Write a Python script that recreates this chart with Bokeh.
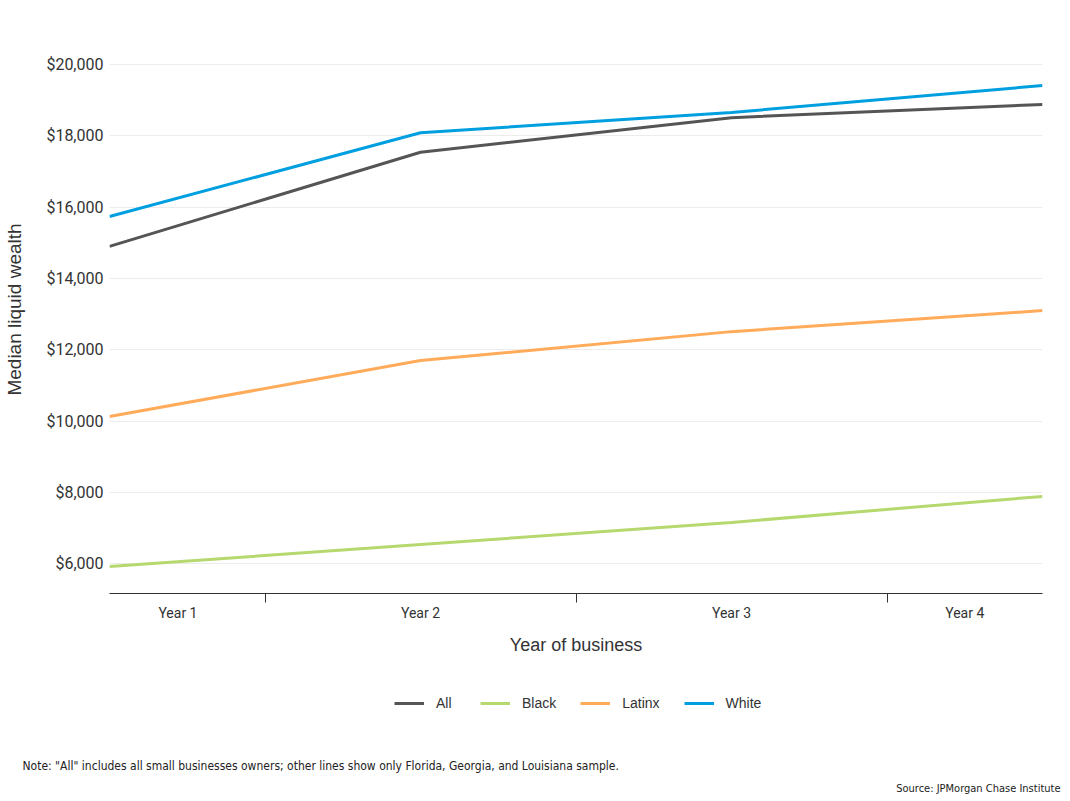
from bokeh.plotting import figure
from bokeh.layouts import column
from bokeh.models import (Range1d, FixedTicker, NumeralTickFormatter, Legend, LegendItem,
                          Title, ColumnDataSource)
from bokeh.embed import file_html
from bokeh.resources import INLINE

# ---- data ----
categories = ["Year 1", "Year 2", "Year 3", "Year 4"]
all_vals = [14900, 17540, 18510, 18880]
black_vals = [5925, 6540, 7160, 7890]
latinx_vals = [10130, 11700, 12510, 13100]
white_vals = [15740, 18085, 18655, 19410]
series_names = ["All", "Black", "Latinx", "White"]
series_colors = ["#555555", "#b6d96f", "#ffab59", "#009fdf"]
y_ticks = [6000, 8000, 10000, 12000, 14000, 16000, 18000, 20000]

x_idx = list(range(len(categories)))

W = 1068
H_MAIN, H_FOOT = 665, 134
FRAME_L, FRAME_R = 109, 1042
p = figure(width=W, height=H_MAIN, output_backend="svg", toolbar_location=None,
           x_range=Range1d(0, 3), y_range=Range1d(5167, 21094),
           min_border_left=FRAME_L, min_border_right=W - FRAME_R, min_border_top=25,
           min_border_bottom=H_MAIN - 593)
p.outline_line_color = None
p.background_fill_color = "white"
p.border_fill_color = "white"

# footer figure holding legend and notes (no visible data)
FOOT_BOTTOM_BORDER = 45
f = figure(width=W, height=H_FOOT, output_backend="svg", toolbar_location=None,
           x_range=Range1d(0, 3), y_range=Range1d(-2, -1),
           x_axis_type=None, y_axis_type=None,
           min_border_left=FRAME_L, min_border_right=W - FRAME_R, min_border_top=0,
           min_border_bottom=FOOT_BOTTOM_BORDER)
f.outline_line_color = None
f.xgrid.grid_line_color = None
f.ygrid.grid_line_color = None
f.background_fill_color = "white"
f.border_fill_color = "white"

legend_renderers = []
for name, vals, col in zip(series_names, [all_vals, black_vals, latinx_vals, white_vals], series_colors):
    src = ColumnDataSource(dict(x=x_idx, y=vals))
    p.line("x", "y", source=src, line_color=col, line_width=3)
    r2 = f.line("x", "y", source=src, line_color=col, line_width=3)
    legend_renderers.append((name, r2))

# y axis
p.yaxis.ticker = FixedTicker(ticks=y_ticks)
p.yaxis.formatter = NumeralTickFormatter(format="$0,0")
p.yaxis.axis_line_color = None
p.yaxis.major_tick_line_color = None
p.yaxis.minor_tick_line_color = None
p.yaxis.major_label_text_font = "Roboto"
p.yaxis.major_label_text_font_size = "16px"
p.yaxis.major_label_text_color = "#333333"
p.yaxis.major_label_standoff = 0
p.yaxis.axis_label = "Median liquid wealth"
p.yaxis.axis_label_text_font = "Liberation Sans"
p.yaxis.axis_label_text_font_style = "normal"
p.yaxis.axis_label_text_font_size = "19px"
p.yaxis.axis_label_text_color = "#333333"
p.yaxis.axis_label_standoff = 18
p.ygrid.grid_line_color = "#ececec"
p.ygrid.grid_line_width = 1
p.xgrid.grid_line_color = None

# x axis: labels at band centres, tick marks between categories
label_pos = [0.22, 1, 2, 2.75]
p.xaxis.ticker = FixedTicker(ticks=label_pos, minor_ticks=[0.5, 1.5, 2.5])
p.xaxis.major_label_overrides = {lp: c for lp, c in zip(label_pos, categories)}
p.xaxis.major_tick_line_color = None
p.xaxis.minor_tick_line_color = "#333333"
p.xaxis.minor_tick_out = 9
p.xaxis.minor_tick_in = 0
p.xaxis.axis_line_color = "#333333"
p.xaxis.axis_line_width = 1
p.xaxis.major_label_text_font = "Roboto"
p.xaxis.major_label_text_font_size = "14px"
p.xaxis.major_label_text_color = "#333333"
p.xaxis.major_label_standoff = 2
p.xaxis.axis_label = "Year of business"
p.xaxis.axis_label_text_font = "Liberation Sans"
p.xaxis.axis_label_text_font_style = "normal"
p.xaxis.axis_label_text_font_size = "18px"
p.xaxis.axis_label_text_color = "#333333"
p.xaxis.axis_label_standoff = 11

# legend in footer frame (screen units from footer frame bottom-left)
legend = Legend(items=[LegendItem(label=n, renderers=[r]) for n, r in legend_renderers],
                orientation="horizontal", location=(394 - FRAME_L, (799 - FOOT_BOTTOM_BORDER) - 711))
legend.glyph_width = 30
legend.glyph_height = 16
legend.label_height = 16
legend.label_standoff = 12
legend.spacing = 24
legend.padding = 0
legend.margin = 0
legend.border_line_color = None
legend.background_fill_alpha = 0
legend.label_text_font = "Liberation Sans"
legend.label_text_font_size = "14px"
legend.label_text_color = "#333333"
f.add_layout(legend, "center")

note = Title(text='Note: "All" includes all small businesses owners; other lines show only Florida, Georgia, and Louisiana sample.',
             align="left", offset=22 - FRAME_L, standoff=5,
             text_font="Liberation Sans Narrow, DejaVu Sans Condensed", text_font_size="12px",
             text_font_style="normal", text_color="#222222")
f.add_layout(note, "below")
source = Title(text="Source: JPMorgan Chase Institute",
               align="right", offset=FRAME_R - 1060, standoff=8,
               text_font="Liberation Sans Narrow, DejaVu Sans Condensed", text_font_size="11px",
               text_font_style="normal", text_color="#222222")
f.add_layout(source, "below")

layout = column(p, f, spacing=0)
open("out.html", "w").write(file_html(layout, INLINE))
